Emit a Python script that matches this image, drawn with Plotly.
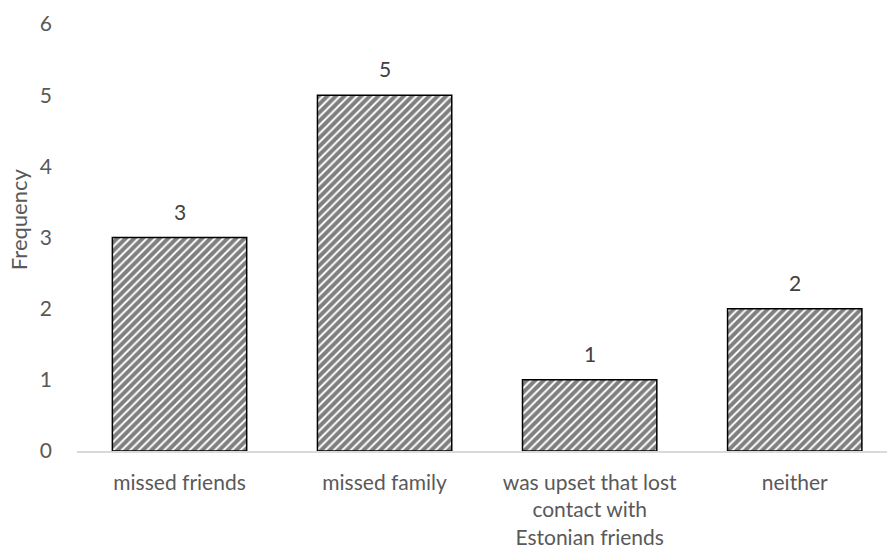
import plotly.graph_objects as go

categories = ["missed friends", "missed family", "was upset that lost<br>contact with<br>Estonian friends", "neither"]
values = [3, 5, 1, 2]
y_ticks = [0, 1, 2, 3, 4, 5, 6]
y_title = "Frequency"

font_fam = "Lato, Open Sans, sans-serif"
grey = "#595959"

fig = go.Figure(go.Bar(
    x=categories,
    y=values,
    width=0.655,
    marker=dict(
        color="white",
        line=dict(color="black", width=1.5),
        pattern=dict(shape="/", fgcolor="black", bgcolor="white", size=6, solidity=0.68),
    ),
    cliponaxis=False,
))

for c, v in zip(categories, values):
    fig.add_annotation(x=c, y=v, text=str(v), showarrow=False, yanchor="bottom", yshift=12,
                       font=dict(family=font_fam, size=21, color="#404040"))

fig.add_annotation(x=0, xref="paper", y=0.543, yref="paper", text=y_title, textangle=-90,
                   showarrow=False, xanchor="center", yanchor="middle", xshift=-59,
                   font=dict(family=font_fam, size=22, color=grey))

fig.update_layout(
    width=887, height=550,
    margin=dict(l=77, r=0, t=24, b=99),
    plot_bgcolor="white", paper_bgcolor="white",
    showlegend=False,
    bargap=0.345,
    xaxis=dict(
        type="category",
        range=[-0.5, 3.45],
        showline=True, linecolor="#d9d9d9", linewidth=1.5,
        showgrid=False, ticks="", ticklabelstandoff=12,
        tickfont=dict(family=font_fam, size=21, color=grey),
    ),
    yaxis=dict(
        range=[0, 6],
        tickvals=y_ticks,
        showgrid=False, showline=False, zeroline=False,
        ticks="", ticklabelstandoff=24,
        tickfont=dict(family=font_fam, size=21, color=grey),
    ),
)

fig.write_html("out.html")
